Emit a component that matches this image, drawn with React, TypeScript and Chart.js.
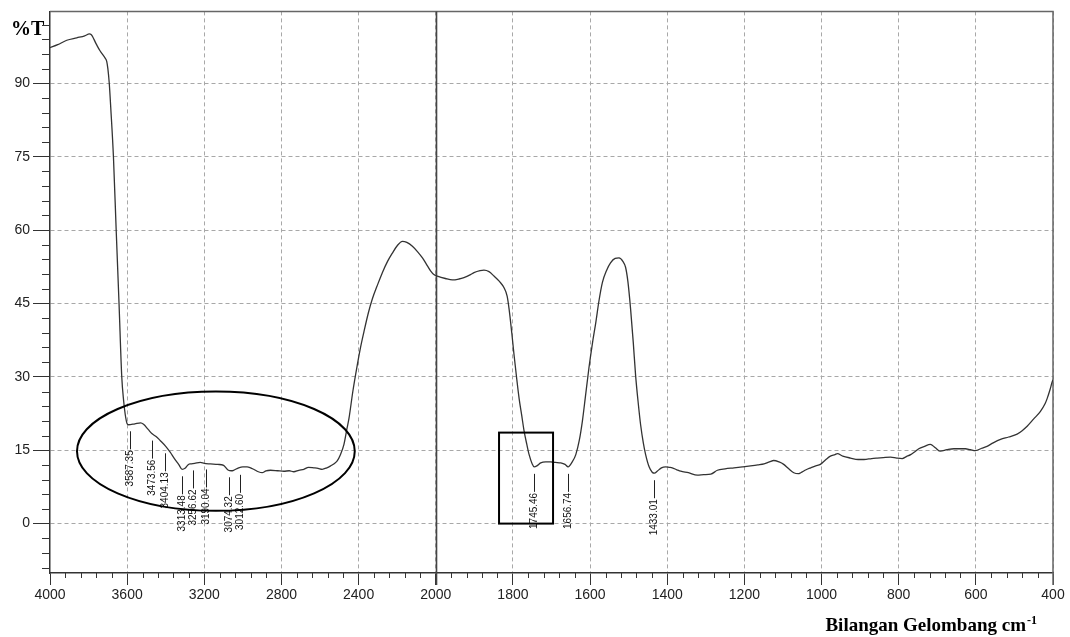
import React, { useEffect, useRef } from "react";
import { Chart, registerables } from "chart.js";

Chart.register(...registerables);

// ---- Spectrum data (wavenumber cm-1, %T) ----
const wavenumbers: number[] = [
  4000, 3960, 3913, 3861, 3820, 3796, 3787, 3760, 3740, 3715, 3706, 3700, 3693, 3685, 3671, 3657, 3642, 3628, 3618, 3610,
  3600, 3593, 3560, 3530, 3515, 3490, 3472, 3450, 3429, 3400, 3377, 3355, 3333, 3315, 3300, 3285, 3273, 3250, 3221, 3200,
  3169, 3130, 3100, 3075, 3060, 3048, 3022, 3000, 2978, 2960, 2944, 2920, 2900, 2880, 2857, 2820, 2788, 2760, 2736, 2710,
  2684, 2660, 2632, 2610, 2589, 2565, 2545, 2525, 2511, 2495, 2476, 2460, 2450, 2430, 2407, 2390, 2373, 2350, 2329, 2300,
  2277, 2250, 2225, 2200, 2173, 2150, 2121, 2095, 2069, 2045, 2026, 2010, 1996, 1975, 1957, 1940, 1927, 1910, 1901, 1885,
  1875, 1862, 1849, 1835, 1823, 1815, 1810, 1803, 1797, 1790, 1784, 1777, 1771, 1764, 1758, 1750, 1745, 1738, 1728, 1715,
  1702, 1690, 1676, 1665, 1657, 1647, 1637, 1628, 1620, 1612, 1603, 1594, 1585, 1577, 1568, 1557, 1547, 1535, 1525, 1515,
  1508, 1502, 1495, 1488, 1482, 1475, 1469, 1462, 1456, 1447, 1439, 1433, 1426, 1415, 1404, 1395, 1387, 1375, 1365, 1345,
  1322, 1305, 1287, 1270, 1250, 1227, 1205, 1184, 1165, 1149, 1135, 1124, 1110, 1098, 1085, 1072, 1060, 1054, 1040, 1028,
  1015, 1003, 990, 977, 965, 959, 945, 925, 905, 890, 870, 856, 840, 821, 805, 791, 780, 769, 758, 748,
  733, 718, 705, 692, 675, 657, 640, 627, 614, 601, 585, 571, 555, 536, 515, 493, 480, 467, 450, 433,
  420, 415, 408, 402, 400,
];
const transmittance: number[] = [
  97.3, 97.9, 98.8, 99.3, 99.7, 100.1, 100.0, 98.0, 96.6, 95.2, 94.5, 93.0, 90.1, 85.0, 74.9, 60.1, 44.9, 30.0, 25.0, 22.3,
  20.4, 20.2, 20.4, 20.6, 20.3, 19.2, 18.4, 17.8, 17.0, 15.8, 14.6, 13.3, 12.1, 11.1, 11.3, 12.0, 12.2, 12.3, 12.5, 12.3,
  12.2, 12.1, 11.9, 10.9, 10.8, 10.9, 11.4, 11.6, 11.6, 11.4, 11.1, 10.6, 10.4, 10.8, 10.9, 10.8, 10.7, 10.8, 10.6, 10.9,
  11.1, 11.5, 11.4, 11.3, 11.1, 11.4, 11.8, 12.3, 12.8, 14.0, 16.2, 19.5, 21.5, 27.0, 32.4, 36.0, 39.1, 43.0, 45.9, 49.0,
  51.3, 53.6, 55.3, 56.8, 57.7, 57.5, 56.7, 55.6, 54.3, 52.8, 51.6, 50.9, 50.6, 50.1, 49.8, 50.0, 50.3, 50.9, 51.3, 51.7,
  51.8, 51.5, 50.6, 49.5, 48.2, 46.5, 43.9, 39.0, 34.4, 29.5, 25.6, 22.0, 18.9, 16.2, 14.1, 12.2, 11.6, 11.8, 12.4, 12.6,
  12.6, 12.5, 12.4, 12.1, 11.6, 12.5, 14.1, 17.0, 20.9, 26.0, 31.8, 36.8, 41.2, 45.5, 49.3, 51.8, 53.3, 54.2, 54.3, 53.6,
  52.4, 49.5, 43.9, 37.0, 30.3, 24.5, 20.2, 16.5, 14.1, 11.6, 10.5, 10.3, 10.7, 11.4, 11.6, 11.5, 11.4, 11.0, 10.7, 10.4,
  9.9, 10.0, 10.1, 10.9, 11.2, 11.4, 11.6, 11.8, 12.0, 12.2, 12.6, 12.9, 12.6, 12.1, 11.2, 10.4, 10.2, 10.4, 11.0, 11.4,
  11.8, 12.1, 13.0, 13.8, 14.1, 14.3, 13.8, 13.4, 13.1, 13.1, 13.3, 13.4, 13.5, 13.6, 13.4, 13.3, 13.7, 14.1, 14.7, 15.3,
  15.8, 16.2, 15.5, 14.8, 15.1, 15.3, 15.3, 15.3, 15.1, 14.9, 15.4, 15.8, 16.5, 17.2, 17.7, 18.3, 19.0, 19.9, 21.4, 22.9,
  24.6, 25.6, 27.3, 29.0, 29.4,
];

// ---- Peak labels ----
const peakWavenumbers: number[] = [3587.35, 3473.56, 3404.13, 3313.48, 3256.62, 3190.04, 3074.32, 3012.6, 1745.46, 1656.74, 1433.01];
const peakLabels: string[] = ["3587.35", "3473.56", "3404.13", "3313.48", "3256.62", "3190.04", "3074.32", "3012.60", "1745.46", "1656.74", "1433.01"];
const peakTransmittance: number[] = [20.3, 18.4, 15.8, 11.1, 12.3, 12.5, 10.9, 11.4, 11.6, 11.6, 10.3];

// ---- Axis ticks ----
const xTickLabels: number[] = [4000, 3600, 3200, 2800, 2400, 2000, 1800, 1600, 1400, 1200, 1000, 800, 600, 400];
const yTickLabels: number[] = [0, 15, 30, 45, 60, 75, 90];
const splitWavenumber = 2000;

// ---- Highlight shapes (data units) ----
const ellipseWavenumbers: number[] = [3860, 2420]; // left, right extent
const ellipseTransmittance: number[] = [2.6, 27.0]; // bottom, top
const boxWavenumbers: number[] = [1836, 1696];
const boxTransmittance: number[] = [0, 18.6];

// wavenumber axis is compressed 2x above 2000 cm-1
const toPos = (w: number) => (w >= 2000 ? 4000 - w : 2000 + (2000 - w) * 2);
const fromPos = (p: number) => (p <= 2000 ? 4000 - p : 2000 - (p - 2000) / 2);

const majorXPos = xTickLabels.map(toPos);
const isMajorX = (p: number) => majorXPos.some((m) => Math.abs(m - p) < 1e-6);
const isMajorY = (v: number) => yTickLabels.some((m) => Math.abs(m - v) < 1e-6);

const AXIS = "#333";
const GRID = "#a8a8a8";
const SANS = "'Liberation Sans', Arial, sans-serif";
const SERIF = "'Liberation Serif', 'Times New Roman', serif";

const decorPlugin = {
  id: "decor",
  beforeDatasetsDraw(chart: any) {
    const { ctx, chartArea: a, scales } = chart;
    const x = scales.x;
    ctx.save();
    // frame top / right
    ctx.strokeStyle = "#666";
    ctx.lineWidth = 1.5;
    ctx.beginPath();
    ctx.moveTo(a.left, a.top);
    ctx.lineTo(a.right, a.top);
    ctx.lineTo(a.right, a.bottom + 12);
    ctx.stroke();
    // split line at 2000
    const sx = Math.round(x.getPixelForValue(toPos(splitWavenumber))) + 0.5;
    ctx.strokeStyle = "#444";
    ctx.lineWidth = 1.6;
    ctx.beginPath();
    ctx.moveTo(sx, a.top);
    ctx.lineTo(sx, a.bottom + 12);
    ctx.stroke();
    ctx.restore();
  },
  afterDraw(chart: any) {
    const { ctx, chartArea: a, scales } = chart;
    const x = scales.x;
    const y = scales.y;
    ctx.save();
    // minor ticks
    ctx.strokeStyle = AXIS;
    ctx.lineWidth = 1;
    ctx.beginPath();
    for (const t of x.ticks) {
      if (isMajorX(t.value)) continue;
      const px = Math.round(x.getPixelForValue(t.value)) + 0.5;
      ctx.moveTo(px, a.bottom);
      ctx.lineTo(px, a.bottom + 5);
    }
    for (const t of y.ticks) {
      if (isMajorY(t.value)) continue;
      const py = Math.round(y.getPixelForValue(t.value)) + 0.5;
      ctx.moveTo(a.left - 8, py);
      ctx.lineTo(a.left, py);
    }
    ctx.stroke();

    // peak labels
    ctx.strokeStyle = "#222";
    ctx.fillStyle = "#111";
    ctx.lineWidth = 1;
    ctx.font = `10px ${SANS}`;
    peakWavenumbers.forEach((w, i) => {
      const px = Math.round(x.getPixelForValue(toPos(w))) + 0.5;
      const py = y.getPixelForValue(peakTransmittance[i]);
      const top = py + 7;
      const bottom = top + 18;
      ctx.beginPath();
      ctx.moveTo(px, top);
      ctx.lineTo(px, bottom);
      ctx.stroke();
      ctx.save();
      ctx.translate(px, bottom + 1);
      ctx.rotate(-Math.PI / 2);
      ctx.textAlign = "right";
      ctx.textBaseline = "middle";
      ctx.fillText(peakLabels[i], 0, 0);
      ctx.restore();
    });

    // ellipse
    ctx.strokeStyle = "#000";
    ctx.lineWidth = 2;
    const exl = x.getPixelForValue(toPos(ellipseWavenumbers[0]));
    const exr = x.getPixelForValue(toPos(ellipseWavenumbers[1]));
    const eyb = y.getPixelForValue(ellipseTransmittance[0]);
    const eyt = y.getPixelForValue(ellipseTransmittance[1]);
    ctx.beginPath();
    ctx.ellipse((exl + exr) / 2, (eyb + eyt) / 2, Math.abs(exr - exl) / 2, Math.abs(eyb - eyt) / 2, 0, 0, Math.PI * 2);
    ctx.stroke();

    // box
    const bxl = x.getPixelForValue(toPos(boxWavenumbers[0]));
    const bxr = x.getPixelForValue(toPos(boxWavenumbers[1]));
    const byb = y.getPixelForValue(boxTransmittance[0]);
    const byt = y.getPixelForValue(boxTransmittance[1]);
    ctx.strokeRect(bxl, byt, bxr - bxl, byb - byt);

    // titles
    ctx.fillStyle = "#000";
    ctx.font = `bold 20px ${SERIF}`;
    ctx.textAlign = "left";
    ctx.textBaseline = "alphabetic";
    ctx.fillText("%T", 11, 35);

    ctx.font = `bold 19px ${SERIF}`;
    const main = "Bilangan Gelombang cm";
    const mw = ctx.measureText(main).width;
    const sx = 1026 - mw;
    ctx.fillText(main, sx, 631);
    ctx.font = `bold 12px ${SERIF}`;
    ctx.fillText("-1", sx + mw + 1, 624);
    ctx.restore();
  },
};

export default function App() {
  const ref = useRef<HTMLCanvasElement>(null);
  useEffect(() => {
    document.body.style.margin = "0";
    const canvas = ref.current!;
    const points = wavenumbers.map((w, i) => ({ x: toPos(w), y: transmittance[i] }));
    const chart = new Chart(canvas, {
      type: "line",
      data: {
        datasets: [
          {
            data: points,
            borderColor: "#333",
            borderWidth: 1.3,
            pointRadius: 0,
            fill: false,
            tension: 0.35,
            cubicInterpolationMode: "monotone",
          },
        ],
      },
      options: {
        animation: false,
        responsive: false,
        devicePixelRatio: 1,
        layout: { padding: { top: 7, right: 17, left: 0, bottom: 0 } },
        plugins: { legend: { display: false }, tooltip: { enabled: false }, title: { display: false } },
        scales: {
          x: {
            type: "linear",
            min: 0,
            max: toPos(400),
            afterBuildTicks: (scale: any) => {
              const ticks = [];
              for (let p = 0; p <= toPos(400); p += 80) ticks.push({ value: p });
              scale.ticks = ticks;
            },
            afterFit: (scale: any) => {
              scale.height = 64;
            },
            ticks: {
              autoSkip: false,
              maxRotation: 0,
              minRotation: 0,
              padding: 2,
              color: "#222",
              font: { family: SANS, size: 14 },
              callback: (v: any) => (isMajorX(Number(v)) ? String(Math.round(fromPos(Number(v)))) : ""),
            },
            grid: {
              color: (c: any) => (c.tick && isMajorX(c.tick.value) && c.tick.value > 0 ? GRID : "rgba(0,0,0,0)"),
              tickColor: (c: any) => (c.tick && isMajorX(c.tick.value) ? AXIS : "rgba(0,0,0,0)"),
              tickLength: 12,
              lineWidth: 1,
            },
            border: { display: true, color: AXIS, width: 1.5, dash: [4, 3] },
          },
          y: {
            type: "linear",
            min: -10.1,
            max: 104.7,
            afterBuildTicks: (scale: any) => {
              const ticks = [];
              for (let v = -9; v <= 102; v += 3) ticks.push({ value: v });
              scale.ticks = ticks;
            },
            afterFit: (scale: any) => {
              scale.width = 50;
            },
            ticks: {
              autoSkip: false,
              padding: 3,
              color: "#222",
              font: { family: SANS, size: 14 },
              callback: (v: any) => (isMajorY(Number(v)) ? String(v) : ""),
            },
            grid: {
              color: (c: any) => (c.tick && isMajorY(c.tick.value) ? GRID : "rgba(0,0,0,0)"),
              tickColor: (c: any) => (c.tick && isMajorY(c.tick.value) ? AXIS : "rgba(0,0,0,0)"),
              tickLength: 17,
              lineWidth: 1,
            },
            border: { display: true, color: AXIS, width: 1.5, dash: [4, 3] },
          },
        },
      },
      plugins: [decorPlugin],
    } as any);
    return () => chart.destroy();
  }, []);
  return (
    <div style={{ position: "absolute", left: 0, top: 0, width: 1070, height: 637, background: "#fff" }}>
      <canvas ref={ref} width={1070} height={637} style={{ width: 1070, height: 637, display: "block" }} />
    </div>
  );
}
